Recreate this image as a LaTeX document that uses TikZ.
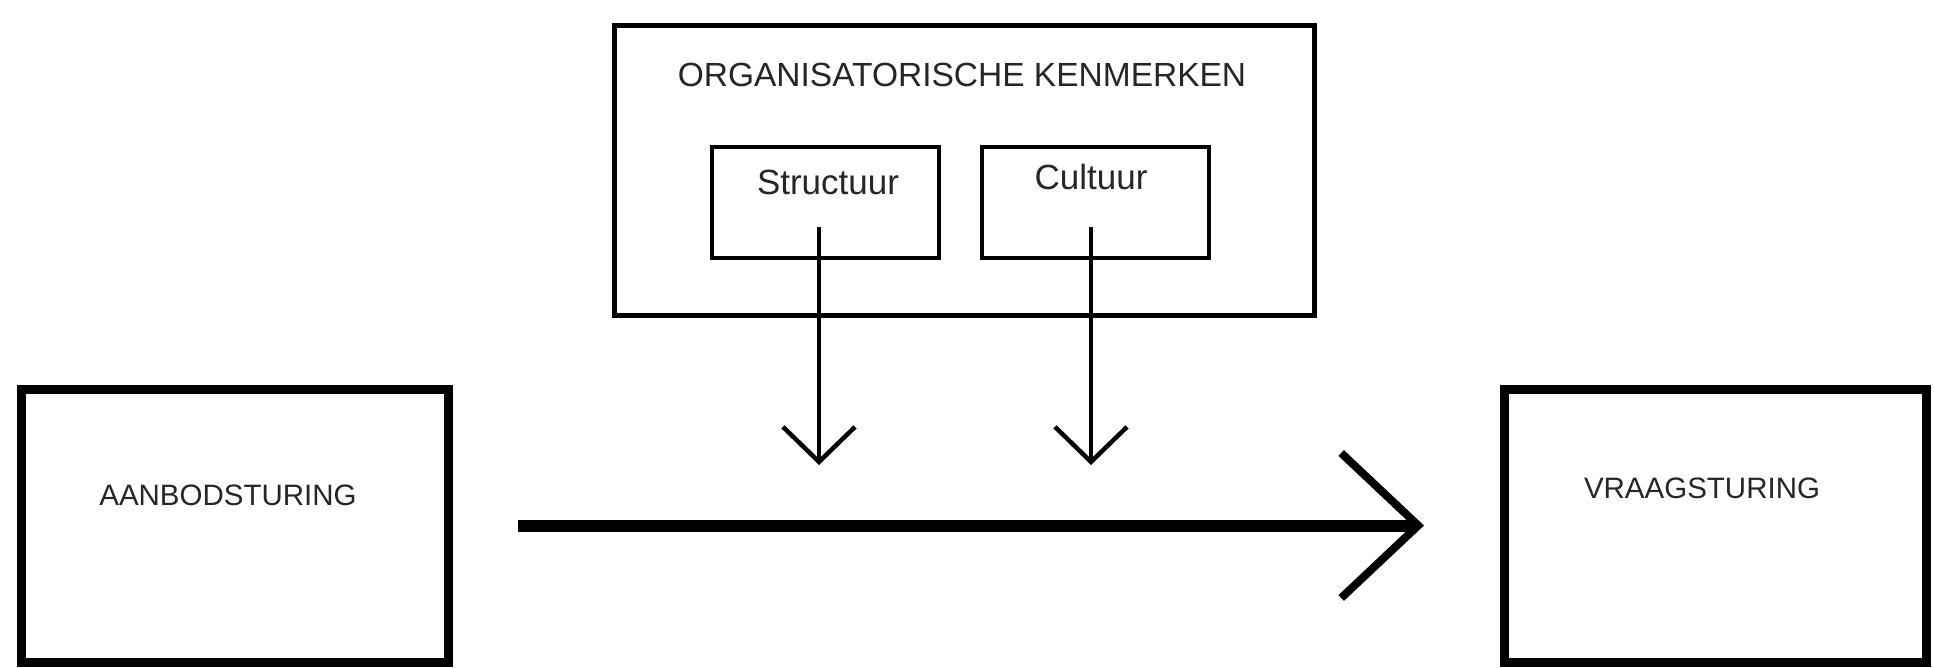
\documentclass[tikz,border=0pt]{standalone}
\usepackage{fontspec}
\setmainfont{Liberation Sans}
\usetikzlibrary{positioning,arrows.meta}

\begin{document}
\begin{tikzpicture}[x=1pt,y=1pt,thick,
    stuur box/.style={rectangle,draw,line width=9pt,minimum width=427pt,minimum height=273pt},
    kenmerk box/.style={rectangle,draw,line width=4pt,minimum width=227pt,minimum height=111pt},
    stuur text/.style={inner sep=0pt,text=black!85,font=\fontsize{29.5}{34}\selectfont},
    kenmerk text/.style={inner sep=0pt,text=black!85,font=\fontsize{35}{40}\selectfont}]

            \useasboundingbox (0,0) rectangle (1934,-667);

            \node[rectangle, draw, line width=5pt, minimum width=700pt, minimum height=290pt] (kenmerken) at (964,-170) {};
            \node[kenmerk text, font=\fontsize{33.5}{40}\selectfont] (titel) at (962,-75) {ORGANISATORISCHE KENMERKEN};

            \node[kenmerk box] (structuur) at (825.5,-202.5) {};
            \node[kenmerk box] (cultuur) [right=39pt of structuur] {};
            \node[kenmerk text] (structuurtekst) at (828,-182) {Structuur};
            \node[kenmerk text] (cultuurtekst) at (1091,-177) {Cultuur};

            \node[stuur box] (aanbod) at (234.5,-525.5) {};
            \node[stuur box, minimum width=422pt] (vraag) at (1715,-525.5) {};
            \node[stuur text] (aanbodtekst) at (228,-495) {AANBODSTURING};
            \node[stuur text] (vraagtekst) at (1702,-488) {VRAAGSTURING};

            \coordinate (structuurvoet) at (819,-227);
            \coordinate (structuurpunt) at (819,-465);
            \coordinate (cultuurvoet) at (1091,-227);
            \coordinate (cultuurpunt) at (1091,-465);

            \path[line width=4.5pt, -{Straight Barb[length=35pt, width=72pt]}]
                (structuurvoet) edge (structuurpunt)
                (cultuurvoet) edge (cultuurpunt);

            \draw[line width=12pt, -{Straight Barb[length=77pt, width=145pt, line width=8pt]},
                shorten <=65.5pt, shorten >=75.5pt] (aanbod) -- (vraag);
\end{tikzpicture}
\end{document}
